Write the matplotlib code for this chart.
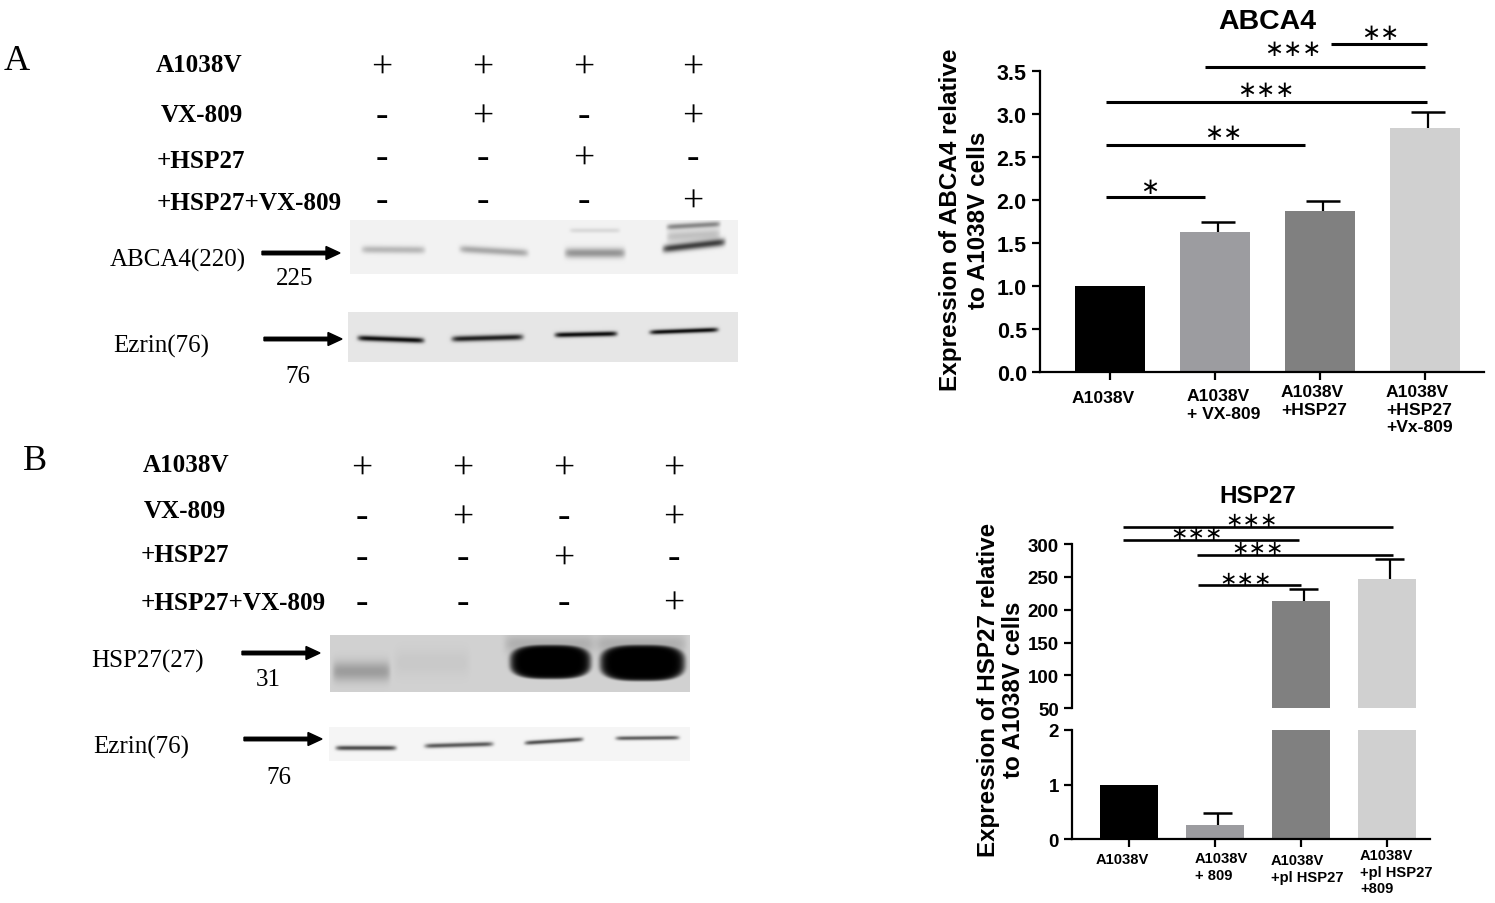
import numpy as np
import matplotlib
matplotlib.use('Agg')
import matplotlib.pyplot as plt
import matplotlib.transforms as mtransforms
from matplotlib.patches import FancyArrow

W, H = 1495, 904
SERIF = 'Liberation Serif'
SANS = 'Liberation Sans'

# bar chart values
abca4_labels = ['A1038V', 'A1038V\n+ VX-809', 'A1038V\n+HSP27', 'A1038V\n+HSP27\n+Vx-809']
abca4_values = [1.0, 1.63, 1.87, 2.84]
abca4_errors = [0.0, 0.11, 0.12, 0.18]
abca4_ticks = [0.0, 0.5, 1.0, 1.5, 2.0, 2.5, 3.0, 3.5]
# (start, end, height, stars), x in bar units
abca4_sig = [(-0.04, 0.9, 2.03, '∗', 0.38, 2.16),
             (-0.04, 1.86, 2.64, '∗∗', 1.08, 2.79),
             (-0.04, 3.02, 3.14, '∗∗∗', 1.48, 3.28),
             (0.9, 3.0, 3.55, '∗∗∗', 1.74, 3.76),
             (2.1, 3.02, 3.81, '∗∗', 2.57, 3.95)]

hsp27_labels = ['A1038V', 'A1038V\n+ 809', 'A1038V\n+pl HSP27', 'A1038V\n+pl HSP27\n+809']
hsp27_values = [1.0, 0.27, 214, 247]
hsp27_errors = [0.0, 0.21, 17, 30]
hsp27_low_ticks = [0, 1, 2]
hsp27_high_ticks = [50, 100, 150, 200, 250, 300]
hsp27_sig = [(-0.07, 3.07, 326, '∗∗∗', 1.43, 336),
             (-0.07, 1.98, 306, '∗∗∗', 0.79, 316),
             (0.79, 3.07, 284, '∗∗∗', 1.49, 294),
             (0.8, 2.0, 237, '∗∗∗', 1.36, 246)]

bar_colors = ['#000000', '#9c9ca0', '#808080', '#d0d0d0']

# western blot side labels
treatments_a = ['A1038V', 'VX-809', '+HSP27', '+HSP27+VX-809']
treatment_pos_a = [(156, 65), (161, 115), (157, 162), (157, 204)]
signs_a = ['++++', '-+-+', '--+-', '---+']
sign_x_a = [382, 483, 584, 693]
sign_y_a = [68, 117, 159, 202]

treatments_b = ['A1038V', 'VX-809', '+HSP27', '+HSP27+VX-809']
treatment_pos_b = [(143, 466), (144, 512), (141, 556), (141, 604)]
signs_b = ['++++', '-+-+', '--+-', '---+']
sign_x_b = [362, 463, 564, 674]
sign_y_b = [469, 518, 559, 604]

blot_labels = [('ABCA4(220)', 110, 260), ('225', 276, 279), ('Ezrin(76)', 113, 346), ('76', 285, 377),
               ('HSP27(27)', 91, 661), ('31', 256, 680), ('Ezrin(76)', 93, 747), ('76', 266, 778)]
arrows = [(262, 340, 253), (264, 342, 339), (242, 320, 653), (244, 322, 739)]

# bands: x0, x1, y at x0, y at x1, half thickness, darkness, edge power
abca4_bands = [(362, 425, 250.5, 251, 3.8, 0.24, 2), (460, 528, 250, 254, 3.8, 0.30, 2),
               (565, 625, 254, 254, 5, 0.38, 2), (570, 620, 231.5, 231.5, 2.5, 0.10, 2),
               (663, 725, 250, 243, 4, 0.72, 2), (667, 720, 228, 225, 3, 0.42, 2),
               (667, 720, 238, 235, 6, 0.20, 2)]
ezrin_a_bands = [(358, 424, 339, 341.5, 2.8, 0.93, 2), (452, 523, 340, 338, 3, 0.85, 2),
                 (555, 617, 336, 334.7, 2.6, 0.93, 2), (650, 718, 333.3, 330.7, 2.4, 0.92, 2)]
hsp27_bands = [(333, 390, 672.5, 672.5, 10, 0.25, 2), (395, 470, 664, 664, 14, 0.04, 2),
               (505, 595, 645, 645, 10, 0.16, 2), (596, 686, 645, 645, 10, 0.16, 2),
               (510, 591, 663, 663, 17, 1.0, 5), (600, 685, 664, 664, 18, 1.0, 5)]
ezrin_b_bands = [(336, 396, 749, 749, 2.4, 0.68, 2), (425, 493, 747, 745, 2.4, 0.62, 2),
                 (525, 583, 744, 740.3, 2.2, 0.65, 2), (616, 679, 739.3, 738.7, 2.1, 0.60, 2)]


def make_blot(box, bg, bands):
    x0, x1, y0, y1 = box
    xx, yy = np.meshgrid(np.arange(x0, x1) + 0.5, np.arange(y0, y1) + 0.5)
    img = np.full(xx.shape, float(bg))
    for bx0, bx1, by0, by1, t, dark, p in bands:
        xc = (bx0 + bx1) / 2
        hw = (bx1 - bx0) / 2
        yc = by0 + (by1 - by0) * (xx - bx0) / (bx1 - bx0)
        if p > 2:
            # saturated band, rounded blob
            r = np.abs((xx - xc) / hw) ** 3 + np.abs((yy - yc) / t) ** 3
            shape = np.exp(-r ** 5)
        else:
            shape = np.exp(-np.abs((xx - xc) / hw) ** 14) * np.exp(-np.abs((yy - yc) / t) ** p)
        img = img * (1 - dark * shape)
    return img


def px_rect(x0, y0, x1, y1):
    return [x0 / W, 1 - y1 / H, (x1 - x0) / W, (y1 - y0) / H]


def style_axis(ax):
    for side in ['top', 'right']:
        ax.spines[side].set_visible(False)
    for side in ['left', 'bottom']:
        ax.spines[side].set_linewidth(1.6)
    ax.tick_params(axis='both', width=1.6, length=6)


def draw_bars(ax, values, errors, width, capw):
    x = np.arange(len(values))
    ax.bar(x, values, width=width, color=bar_colors, linewidth=0)
    for xi, v, e in zip(x, values, errors):
        if e > 0:
            ax.vlines(xi + 0.03, v, v + e, color='black', lw=1.6, zorder=3)
            ax.hlines(v + e, xi + 0.03 - capw, xi + 0.03 + capw, color='black', lw=1.8, zorder=3)


def place_tick_labels(fig, ax, labels, offsets, size):
    ax.set_xticks(np.arange(len(labels)), labels, fontsize=size, fontweight='bold',
                  ha='left', va='top', linespacing=1.2)
    for lab, (dx, dy) in zip(ax.get_xticklabels(), offsets):
        lab.set_transform(lab.get_transform() + mtransforms.ScaledTranslation(dx / 100, -dy / 100, fig.dpi_scale_trans))


def draw_sig(ax, sig, size, lw):
    for x0, x1, y, stars, tx, ty in sig:
        ax.plot([x0, x1], [y, y], color='black', lw=lw, clip_on=False, solid_capstyle='butt', zorder=4)
        ax.text(tx, ty, stars, fontsize=size, family='DejaVu Sans', ha='center', va='center', clip_on=False)


fig = plt.figure(figsize=(W / 100, H / 100), dpi=100)
plt.rcParams['font.family'] = SANS

# overlay in pixel coordinates for the blot panels
over = fig.add_axes([0, 0, 1, 1])
over.axis('off')

for box, bg, bands in [((350, 738, 221, 275), 0.95, abca4_bands),
                       ((348, 738, 313, 363), 0.90, ezrin_a_bands),
                       ((330, 690, 636, 693), 0.82, hsp27_bands),
                       ((329, 690, 728, 762), 0.96, ezrin_b_bands)]:
    over.imshow(make_blot(box, bg, bands), cmap='gray', vmin=0, vmax=1, aspect='auto',
                extent=[box[0], box[1], box[3], box[2]], interpolation='bilinear')
over.set_xlim(0, W)
over.set_ylim(H, 0)

over.text(4, 62, 'A', family=SERIF, fontsize=26, va='center')
over.text(23, 462, 'B', family=SERIF, fontsize=26, va='center')

for names, pos, signs, sx, sy in [(treatments_a, treatment_pos_a, signs_a, sign_x_a, sign_y_a),
                                  (treatments_b, treatment_pos_b, signs_b, sign_x_b, sign_y_b)]:
    for name, (tx, ty) in zip(names, pos):
        over.text(tx, ty, name, family=SERIF, fontweight='bold', fontsize=18.1, va='center')
    for row, yy in zip(signs, sy):
        for s, xx in zip(row, sx):
            over.text(xx, yy, s, family=SERIF, fontsize=27, ha='center', va='center')

for name, tx, ty in blot_labels:
    over.text(tx, ty, name, family=SERIF, fontsize=18, va='center')

for x0, x1, y in arrows:
    over.add_patch(FancyArrow(x0, y + 1, x1 - x0, 0, width=3.5, head_width=13, head_length=14,
                              length_includes_head=True, color='black'))

# ABCA4 bars
ax1 = fig.add_axes(px_rect(1040, 72, 1484, 373))
draw_bars(ax1, abca4_values, abca4_errors, 0.667, 0.165)
ax1.set_xlim(-0.667, 3.562)
ax1.set_ylim(0, 3.5)
ax1.set_yticks(abca4_ticks)
ax1.set_yticklabels([f'{t:.1f}' for t in abca4_ticks], fontsize=15.5, fontweight='bold')
style_axis(ax1)
place_tick_labels(fig, ax1, abca4_labels, [(-38, 5), (-28, 3), (-39, -1), (-39, -1)], 12.6)
draw_sig(ax1, abca4_sig, 16.5, 2.2)
ax1.set_ylabel('Expression of ABCA4 relative\nto A1038V cells', fontsize=17.5, fontweight='bold', linespacing=1.25)
ax1.yaxis.set_label_coords((990 - 1040) / 444, (373 - 220) / 301)
over.text(1267, 22, 'ABCA4', fontsize=20.5, fontweight='bold', ha='center', va='center', family=SANS)

# HSP27 bars, broken axis
ax2 = fig.add_axes(px_rect(1072, 545, 1430, 709.3))
ax3 = fig.add_axes(px_rect(1072, 731, 1430, 840.3))
for ax in (ax2, ax3):
    draw_bars(ax, hsp27_values, hsp27_errors, 0.674, 0.165)
    ax.set_xlim(-0.663, 3.5)
    style_axis(ax)
ax2.set_ylim(50, 300)
ax3.set_ylim(0, 2)
ax2.set_yticks(hsp27_high_ticks)
ax2.set_yticklabels([str(t) for t in hsp27_high_ticks], fontsize=13.5, fontweight='bold')
ax3.set_yticks(hsp27_low_ticks)
ax3.set_yticklabels([str(t) for t in hsp27_low_ticks], fontsize=13.5, fontweight='bold')
ax2.spines['bottom'].set_visible(False)
ax2.set_xticks([])
place_tick_labels(fig, ax3, hsp27_labels, [(-33, 0), (-20, -1), (-30, 1), (-27, -4)], 10.6)
draw_sig(ax2, hsp27_sig, 15, 1.9)
ax3.set_ylabel('Expression of HSP27 relative\nto A1038V cells', fontsize=17.4, fontweight='bold', linespacing=1.1)
ax3.yaxis.set_label_coords((1025 - 1072) / 358, (840.3 - 690) / 109.3)
over.text(1258, 497, 'HSP27', fontsize=17.5, fontweight='bold', ha='center', va='center', family=SANS)

fig.savefig('out.png', dpi=100)
